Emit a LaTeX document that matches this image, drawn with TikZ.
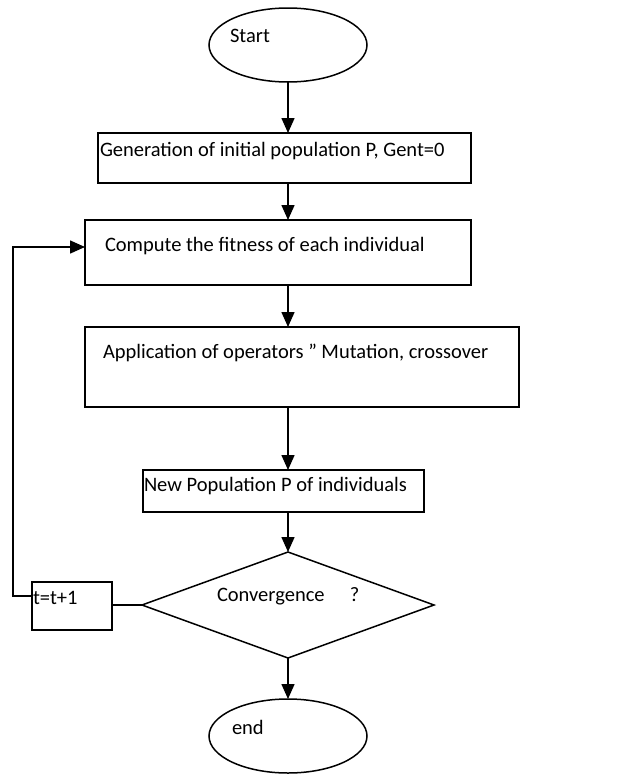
\documentclass[tikz,border=0pt]{standalone}
\usepackage{fontspec}
\setmainfont{Carlito}
\usetikzlibrary{shapes.geometric,arrows.meta}
\begin{document}
\begin{tikzpicture}[x=1pt,y=-1pt,
  every node/.style={inner sep=0pt,outer sep=0pt},
  shp/.style={draw=black,line width=1.5pt},
  boxst/.style={shp,rectangle,anchor=north west},
  ovalst/.style={shp,ellipse,minimum width=158pt,minimum height=74pt},
  txt/.style={anchor=west,font=\fontsize{20.5}{24}\selectfont},
  conn/.style={line width=1.5pt},
  arr/.style={conn,-{Triangle[length=15pt,width=13pt]}}]
\useasboundingbox (0,0) rectangle (633,774);
% shapes
\node[ovalst] (start) at (288,45) {};
\node[boxst,minimum width=373pt,minimum height=50pt] (b1) at (98,133) {};
\node[boxst,minimum width=386pt,minimum height=65pt] (b2) at (85,220) {};
\node[boxst,minimum width=434pt,minimum height=80pt] (b3) at (85,327) {};
\node[boxst,minimum width=281pt,minimum height=42pt] (b4) at (143,470) {};
\node[shp,diamond,minimum width=292pt,minimum height=106pt,aspect=2.75] (conv) at (288,605) {};
\node[boxst,minimum width=80pt,minimum height=48pt] (inc) at (32,582) {};
\node[ovalst] (end) at (288,736) {};
% texts
\node[txt] (tstart) at (230,36) {Start};
\node[txt] (t1) at (100,151) {Generation of initial population P, Gent=0};
\node[txt] (t2) at (105,246) {Compute the fitness of each individual};
\node[txt] (t3) at (103,353) {Application of operators \symbol{34} Mutation, crossover};
\node[txt] (t4) at (144,486) {New Population P of individuals};
\node[txt] (tconv) at (217,596) {Convergence \quad ?};
\node[txt] (tinc) at (33,598) {t=t+1};
\node[txt] (tend) at (232,727) {end};
% connectors
\draw[arr] (start.south) -- (b1.north -| start.south);
\draw[arr] (b1.south -| start.south) -- (b2.north -| start.south);
\draw[arr] (b2.south -| start.south) -- (b3.north -| start.south);
\draw[arr] (b3.south -| start.south) -- (b4.north -| start.south);
\draw[arr] (b4.south -| start.south) -- (conv.north);
\draw[arr] (conv.south) -- (end.north);
\draw[conn] (conv.west) -- (conv.west -| inc.east);
\coordinate (lc1) at (13,596);
\coordinate (lc2) at (13,247);
\draw[arr] (inc.west |- lc1) -- (lc1) -- (lc2) -- (b2.west |- lc2);
\end{tikzpicture}
\end{document}
